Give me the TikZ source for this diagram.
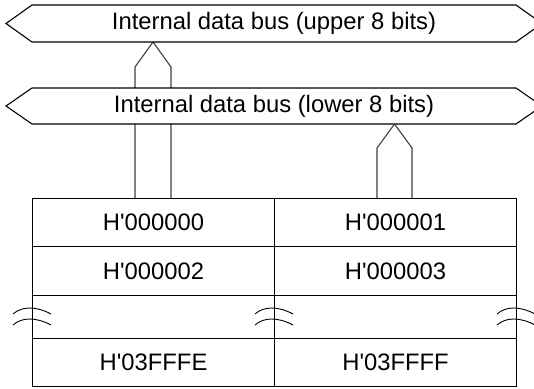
\documentclass[tikz,border=0pt]{standalone}
\usepackage{fontspec}
\setmainfont{Liberation Sans}
\begin{document}
\begin{tikzpicture}[x=1pt,y=-1pt, line width=1.1pt, line join=miter,
  lbl/.style={font=\fontsize{23.8}{28}\selectfont, inner sep=0pt},
  cell/.style={draw, line width=1.1pt, minimum width=242pt, inner sep=0pt, anchor=north west, font=\fontsize{23.8}{28}\selectfont},
  bus/.style={draw, fill=white, line width=1.1pt},
  conn/.style={draw, line width=1.1pt, black!75},
  wave/.style={line width=0.9pt}]
\useasboundingbox (0,0) rectangle (534,388);
\begin{scope}
\clip (0,0) rectangle (534,388);
% memory cells
\node[cell, minimum height=48pt] (c00) at (32,198) {H\textquotesingle000000};
\node[cell, minimum height=48pt] (c01) at (274,198) {H\textquotesingle000001};
\node[cell, minimum height=49pt] (c10) at (32,246) {H\textquotesingle000002};
\node[cell, minimum height=49pt] (c11) at (274,246) {H\textquotesingle000003};
\node[cell, minimum height=43pt] (c20) at (32,295) {};
\node[cell, minimum height=43pt] (c21) at (274,295) {};
\node[cell, minimum height=48pt] (c30) at (32,338) {H\textquotesingle03FFFE};
\node[cell, minimum height=48pt] (c31) at (274,338) {H\textquotesingle03FFFF};
% connector to upper bus (behind lower bus)
\coordinate (ua) at (153,42);
\draw[conn] (c00.north -| 135,0) -- (135,67) -- (ua) -- (171,67) -- (c00.north -| 171,0);
% upper bus
\draw[bus] (6,23.5) -- (32,5) -- (516,5) -- (542,23.5) -- (516,42) -- (32,42) -- cycle;
\node[lbl] (ub) at (274,23.5) {Internal data bus (upper 8 bits)};
% lower bus
\draw[bus] (6,106) -- (32,88) -- (516,88) -- (542,106) -- (516,124) -- (32,124) -- cycle;
\node[lbl] (lb) at (274,106) {Internal data bus (lower 8 bits)};
% connector to lower bus
\coordinate (la) at (394.5,124);
\draw[conn] (c01.north -| 377,0) -- (377,148) -- (la) -- (412,148) -- (c01.north -| 412,0);
% break marks
\foreach \x in {32,274,516}{
  \foreach \y in {311,322}{
    \draw[wave] (\x-19,\y+3) .. controls (\x-10,\y-5) and (\x+4,\y-5) .. (\x+19,\y+3);
  }
}
\end{scope}
\end{tikzpicture}
\end{document}
